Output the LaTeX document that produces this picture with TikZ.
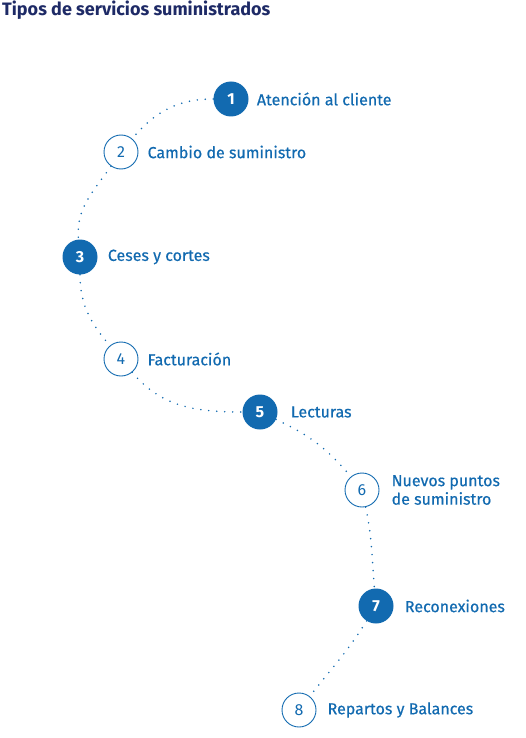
\documentclass[tikz,border=0pt]{standalone}
\usepackage{fontspec}
\setmainfont{Fira Sans}
\newfontfamily\medio{Fira Sans}[FakeBold=0.5]
\usetikzlibrary{positioning}
\definecolor{azul}{RGB}{18,106,176}
\definecolor{marino}{RGB}{30,42,102}

\begin{document}
\begin{tikzpicture}[x=1pt, y=1pt,
        lleno/.style={
            circle,
            fill=azul,
            minimum size=35pt,
            inner sep=0pt,
            text=white,
            font=\fontsize{16}{16}\selectfont\bfseries
        },
        hueco/.style={
            circle,
            draw=azul,
            line width=0.9pt,
            minimum size=34pt,
            inner sep=0pt,
            text=azul,
            font=\fontsize{16}{16}\selectfont
        },
        etiqueta/.style={
            anchor=west,
            inner sep=0pt,
            align=left,
            text=azul,
            font=\fontsize{16}{18.5}\medio
        },
        enlace/.style={draw=azul, line width=1.7pt, line cap=round, dash pattern=on 0pt off 8pt}
    ]
        \useasboundingbox (0,0) rectangle (526,-738);

        \node[anchor=base west, inner sep=0pt, text=marino,
              font=\fontsize{18}{20}\selectfont\bfseries] (titulo) at (2,-16)
            {Tipos de servicios suministrados};

        \node[lleno] (n1) at (231,-99) {1};
        \node[hueco] (n2) at (121,-152) {2};
        \node[lleno] (n3) at (80,-257) {3};
        \node[hueco] (n4) at (121,-359) {4};
        \node[lleno] (n5) at (260,-412) {5};
        \node[hueco] (n6) at (362,-490) {6};
        \node[lleno] (n7) at (376,-606) {7};
        \node[hueco] (n8) at (299,-710) {8};

        \node[etiqueta, right=8pt of n1] (e1) {Atención al cliente};
        \node[etiqueta, right=9pt of n2] (e2) {Cambio de suministro};
        \node[etiqueta, right=10pt of n3] (e3) {Ceses y cortes};
        \node[etiqueta, right=9pt of n4] (e4) {Facturación};
        \node[etiqueta, right=13pt of n5] (e5) {Lecturas};
        \node[etiqueta, right=12pt of n6] (e6) {Nuevos puntos\\de suministro};
        \node[etiqueta, right=11pt of n7] (e7) {Reconexiones};
        \node[etiqueta, right=11pt of n8] (e8) {Repartos y Balances};

        % camino punteado
        \draw[enlace] (n1) to[out=180, in=50] (n2);
        \draw[enlace] (n2) to[out=235, in=95] (n3);
        \draw[enlace] (n3) to[out=-90, in=130] (n4);
        \draw[enlace] (n4) to[out=-50, in=180] (n5);
        \draw[enlace] (n5) to[out=-25, in=130] (n6);
        \draw[enlace] (n6) to[out=-78, in=95] (n7);
        \draw[enlace] (n7) to[out=-122, in=52] (n8);
    \end{tikzpicture}
\end{document}
